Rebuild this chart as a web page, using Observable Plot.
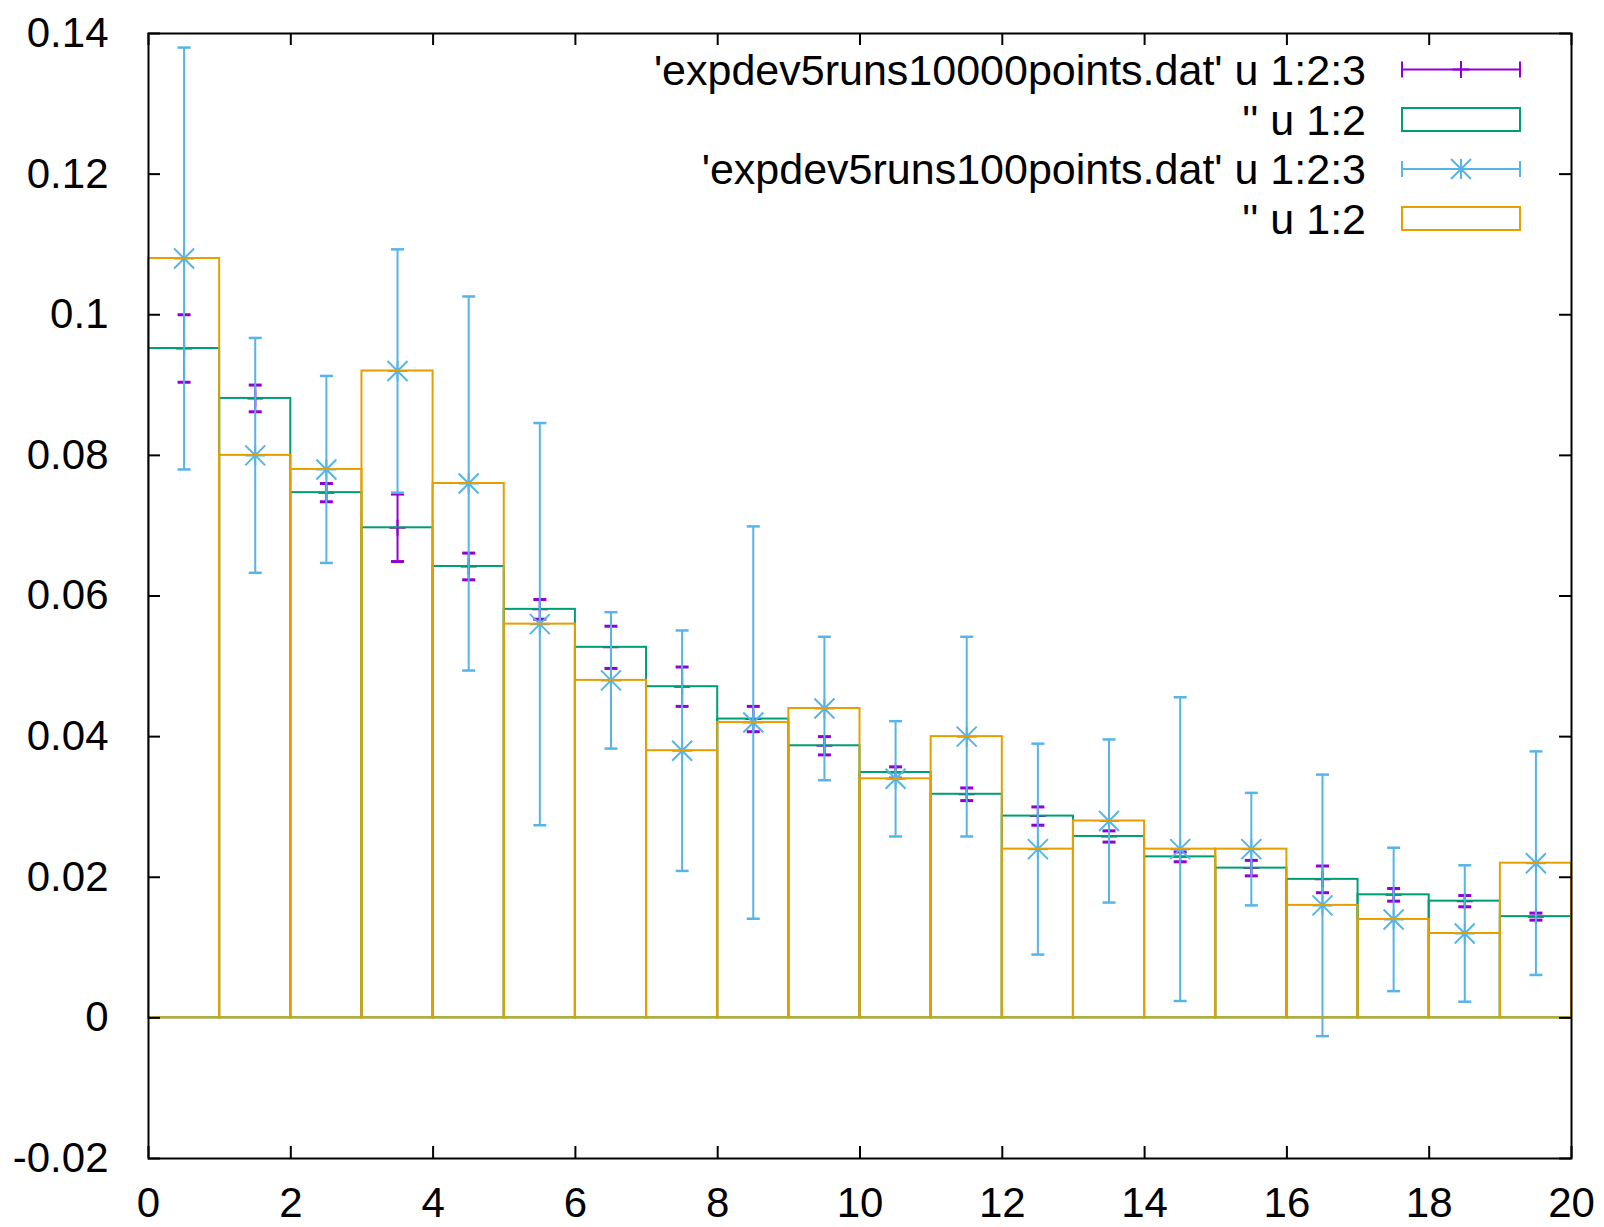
<!DOCTYPE html>
<html><head><meta charset="utf-8">
<script src="https://cdn.jsdelivr.net/npm/d3@7"></script>
<script src="https://cdn.jsdelivr.net/npm/@observablehq/plot@0.6"></script>
<style>
html,body{margin:0;padding:0;background:#fff;}
#wrap{position:relative;width:1604px;height:1227px;overflow:hidden;}
#wrap svg{display:block;}
</style></head><body><div id="wrap"></div>
<script>
// ---- data ----
const binCenters = [0.5,1.5,2.5,3.5,4.5,5.5,6.5,7.5,8.5,9.5,10.5,11.5,12.5,13.5,14.5,15.5,16.5,17.5,18.5,19.5];
const hist10000 = [0.0952,0.0881,0.0747,0.0697,0.0642,0.0581,0.0527,0.0471,0.0425,0.0387,0.0349,0.0318,0.0287,0.0258,0.0229,0.0213,0.0197,0.0175,0.0166,0.0144];
const err10000  = [0.0048,0.0019,0.0013,0.0048,0.0019,0.0014,0.0030,0.0028,0.0018,0.0013,0.0008,0.0009,0.0013,0.0008,0.0007,0.0011,0.0019,0.0009,0.0008,0.0005];
const hist100   = [0.108,0.080,0.078,0.092,0.076,0.056,0.048,0.038,0.042,0.044,0.034,0.040,0.024,0.028,0.024,0.024,0.016,0.014,0.012,0.022];
const err100    = [0.0300,0.0167,0.0133,0.0173,0.0266,0.0286,0.0097,0.0171,0.0279,0.0102,0.0082,0.0142,0.0150,0.0116,0.0216,0.0080,0.0186,0.0102,0.0097,0.0159];
const xTicks = [0,2,4,6,8,10,12,14,16,18,20];
const yTicks = [-0.02,0,0.02,0.04,0.06,0.08,0.1,0.12,0.14];
const legendLabels = ["'expdev5runs10000points.dat' u 1:2:3", "'' u 1:2", "'expdev5runs100points.dat' u 1:2:3", "'' u 1:2"];
const colors = {purple:"#9400D3", green:"#009E73", blue:"#56B4E9", orange:"#E69F00"};

// ---- build tables ----
const d10000 = binCenters.map((x,i)=>({x, y:hist10000[i], e:err10000[i]}));
const d100 = binCenters.map((x,i)=>({x, y:hist100[i], e:err100[i]}));

// ---- layout ----
const W = 1604, H = 1227;
const mL = 148, mR = 33, mT = 33, mB = 69;
const plotW = W - mL - mR, plotH = H - mT - mB;
const tickLen = 12;
const FONT = "'Liberation Sans', Arial, sans-serif";

// custom symbols
const capSym = {draw(ctx, size){ const r = Math.sqrt(size/Math.PI); ctx.moveTo(-r,0); ctx.lineTo(r,0); }};
const plusSym = {draw(ctx, size){ const r = Math.sqrt(size/Math.PI); ctx.moveTo(-r,0); ctx.lineTo(r,0); ctx.moveTo(0,-r); ctx.lineTo(0,r); }};
const starSym = {draw(ctx, size){ const r = Math.sqrt(size/Math.PI); ctx.moveTo(-r,0); ctx.lineTo(r,0); ctx.moveTo(0,-r); ctx.lineTo(0,r); ctx.moveTo(-r,-r); ctx.lineTo(r,r); ctx.moveTo(-r,r); ctx.lineTo(r,-r); }};

function errorBars(data, color, sym, symR, capW) {
  return [
    Plot.ruleX(data, {x:"x", y1:d=>d.y-d.e, y2:d=>d.y+d.e, stroke:color, strokeWidth:2}),
    Plot.dot(data, {x:"x", y:d=>d.y+d.e, symbol:capSym, r:6.5, fill:"none", stroke:color, strokeWidth:capW}),
    Plot.dot(data, {x:"x", y:d=>d.y-d.e, symbol:capSym, r:6.5, fill:"none", stroke:color, strokeWidth:capW}),
    Plot.dot(data, {x:"x", y:"y", symbol:sym, r:symR, fill:"none", stroke:color, strokeWidth:2})
  ];
}
function boxes(data, color) {
  return Plot.rect(data, {x1:d=>d.x-0.5, x2:d=>d.x+0.5, y1:0, y2:"y", fill:"none", stroke:color, strokeWidth:2});
}

const chart = Plot.plot({
  width: W, height: H,
  marginLeft: mL, marginRight: mR, marginTop: mT, marginBottom: mB,
  style: {fontFamily: FONT, fontSize: "42px", background: "white", color: "black"},
  x: {type:"linear", domain:[0,20], label:null},
  y: {type:"linear", domain:[-0.02,0.14], label:null},
  marks: [
    ...errorBars(d10000, colors.purple, plusSym, 8, 3),
    boxes(d10000, colors.green),
    ...errorBars(d100, colors.blue, starSym, 10, 2.5),
    boxes(d100, colors.orange),
    // inward ticks on all four sides
    Plot.tickX(xTicks, {x:d=>d, insetTop: plotH - tickLen, stroke:"black", strokeWidth:2}),
    Plot.tickX(xTicks, {x:d=>d, insetBottom: plotH - tickLen, stroke:"black", strokeWidth:2}),
    Plot.tickY(yTicks, {y:d=>d, insetRight: plotW - tickLen, stroke:"black", strokeWidth:2}),
    Plot.tickY(yTicks, {y:d=>d, insetLeft: plotW - tickLen, stroke:"black", strokeWidth:2}),
    Plot.axisX(xTicks, {anchor:"bottom", tickSize:0, tickPadding:29, tickFormat:d=>String(d), label:null}),
    Plot.axisY(yTicks, {anchor:"left", tickSize:0, tickPadding:40, tickFormat:d=>String(+d.toFixed(2)), label:null}),
    Plot.frame({stroke:"black", strokeWidth:2})
  ]
});
document.getElementById("wrap").appendChild(chart);

// ---- legend overlay (inside plot, top right, gnuplot style) ----
const leg = d3.select("#wrap").append("svg")
  .attr("width", W).attr("height", H)
  .style("position","absolute").style("left","0px").style("top","0px")
  .style("pointer-events","none");
const rowY = [69.5, 119.5, 169, 218.5];
const textRight = 1366, sx1 = 1402, sx2 = 1520;
const legendStyles = [
  {type:"err", color:colors.purple, sym:"plus"},
  {type:"box", color:colors.green},
  {type:"err", color:colors.blue, sym:"star"},
  {type:"box", color:colors.orange}
];
legendLabels.forEach((lab,i)=>{
  const cy = rowY[i], st = legendStyles[i];
  leg.append("text").attr("x", textRight).attr("y", cy).attr("dy","0.35em")
    .attr("text-anchor","end").attr("font-family", FONT).attr("font-size", 43).attr("fill","black")
    .text(lab);
  const g = leg.append("g").attr("stroke", st.color).attr("stroke-width", 2).attr("fill","none");
  if (st.type === "box") {
    g.append("rect").attr("x", sx1).attr("y", cy-11.5).attr("width", sx2-sx1).attr("height", 23);
  } else {
    const cx = (sx1+sx2)/2;
    g.append("path").attr("d",
      `M${sx1},${cy}H${sx2}M${sx1},${cy-8}V${cy+8}M${sx2},${cy-8}V${cy+8}`);
    if (st.sym === "plus") {
      g.append("path").attr("d", `M${cx},${cy-8.5}V${cy+8.5}M${cx-8.5},${cy}H${cx+8.5}`);
    } else {
      const r = 10;
      g.append("path").attr("d", `M${cx},${cy-r}V${cy+r}M${cx-r},${cy}H${cx+r}M${cx-r},${cy-r}L${cx+r},${cy+r}M${cx-r},${cy+r}L${cx+r},${cy-r}`);
    }
  }
});
</script>
</body></html>
